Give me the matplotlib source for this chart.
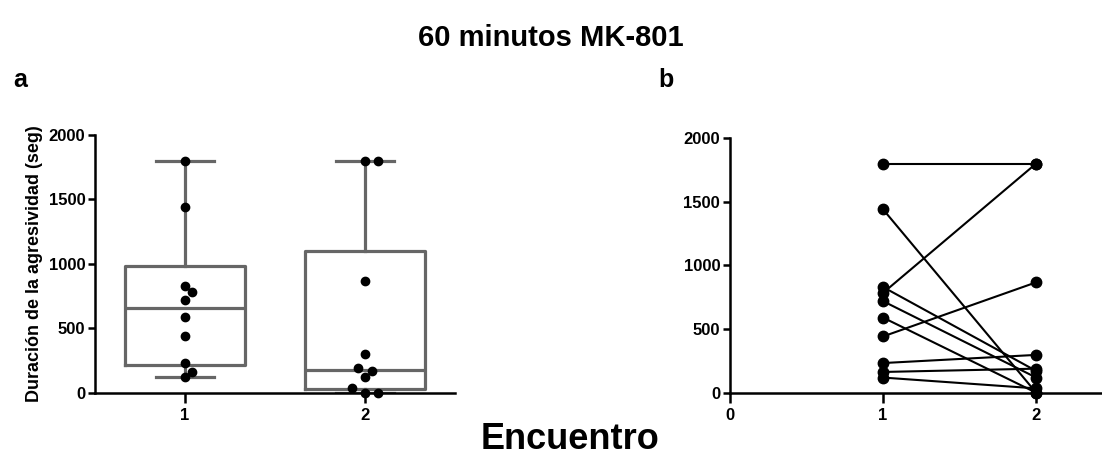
import numpy as np
import matplotlib
matplotlib.use("Agg")
import matplotlib.pyplot as plt
from matplotlib import cbook

plt.rcParams['font.family'] = ['Liberation Sans', 'DejaVu Sans']
plt.rcParams['font.weight'] = 'bold'

# aggression duration (s) per animal, encounter 1 and encounter 2 (same order = same animal)
encuentro_1 = [1800, 1440, 830, 784, 719, 590, 442, 233, 163, 119]
encuentro_2 = [1800, 0, 171, 1800, 119, 0, 867, 297, 189, 34]
grupos = [1, 2]
yticks = [0, 500, 1000, 1500, 2000]

BOX_GREY = '#666666'


def style_axis(ax):
    ax.spines['top'].set_visible(False)
    ax.spines['right'].set_visible(False)
    for s in ('left', 'bottom'):
        ax.spines[s].set_linewidth(1.8)
    ax.tick_params(axis='y', width=1.8, length=5, labelsize=12, pad=2)
    ax.tick_params(axis='x', width=1.8, length=7, labelsize=12, pad=4)
    ax.set_ylim(0, 2000)
    ax.set_yticks(yticks)
    for lab in ax.get_xticklabels() + ax.get_yticklabels():
        lab.set_fontweight('bold')


def swarm_offsets(ax, x0, values, diam_px=8.5, step_px=5.5):
    # simple beeswarm: walk up the values, nudge sideways on overlap
    placed = []
    offs = np.zeros(len(values))
    order = np.argsort(values)
    for i in order:
        px, py = ax.transData.transform((x0, values[i]))
        for k in [0, 1, -1, 2, -2, 3, -3]:
            cx = px + k * step_px * 1.2
            if all((cx - qx) ** 2 + (py - qy) ** 2 >= diam_px ** 2 for qx, qy in placed):
                break
        placed.append((cx, py))
        offs[i] = ax.transData.inverted().transform((cx, py))[0] - x0
    return offs


fig = plt.figure(figsize=(11.02, 4.63), dpi=100)

# panel a: box plots with individual points
ax1 = fig.add_axes([0.0862, 0.1518, 0.3267, 0.5566])
ax1.set_xlim(0.5, 2.5)
style_axis(ax1)

datos = [np.array(encuentro_1, float), np.array(encuentro_2, float)]
stats = cbook.boxplot_stats(datos, whis=(0, 100))
for st, d in zip(stats, datos):
    q1, q3 = np.percentile(d, [25, 75], method='weibull')
    st['q1'], st['q3'] = q1, q3
line_kw = dict(color=BOX_GREY, linewidth=2.3)
ax1.bxp(stats, positions=grupos, widths=0.67, capwidths=0.32, showfliers=False,
        boxprops=line_kw, whiskerprops=line_kw, capprops=line_kw, medianprops=line_kw)
ax1.set_xticks(grupos)
ax1.set_xticklabels([str(g) for g in grupos])
style_axis(ax1)

fig.canvas.draw()
for g, d in zip(grupos, datos):
    dx = swarm_offsets(ax1, g, d)
    ax1.plot(g + dx, d, 'o', color='black', markersize=6, clip_on=False, zorder=5)

ax1.set_ylabel('Duración de la agresividad (seg)', fontsize=13, fontweight='bold', labelpad=4)

# panel b: paired values per animal
ax2 = fig.add_axes([0.6624, 0.1518, 0.3376, 0.5500])
ax2.set_xlim(0, 2.43)
for a, b in zip(encuentro_1, encuentro_2):
    ax2.plot(grupos, [a, b], '-o', color='black', linewidth=1.5, markersize=7.5,
             clip_on=False, zorder=4)
ax2.set_xticks([0, 1, 2])
ax2.set_xticklabels(['0', '1', '2'])
style_axis(ax2)

fig.text(0.5, 0.918, '60 minutos MK-801', ha='center', va='center', fontsize=21, fontweight='bold')
fig.text(0.012, 0.827, 'a', ha='left', va='center', fontsize=18, fontweight='bold')
fig.text(0.597, 0.827, 'b', ha='left', va='center', fontsize=18, fontweight='bold')
fig.text(0.517, 0.05, 'Encuentro', ha='center', va='center', fontsize=26, fontweight='bold')

fig.savefig('out.png', dpi=100)
